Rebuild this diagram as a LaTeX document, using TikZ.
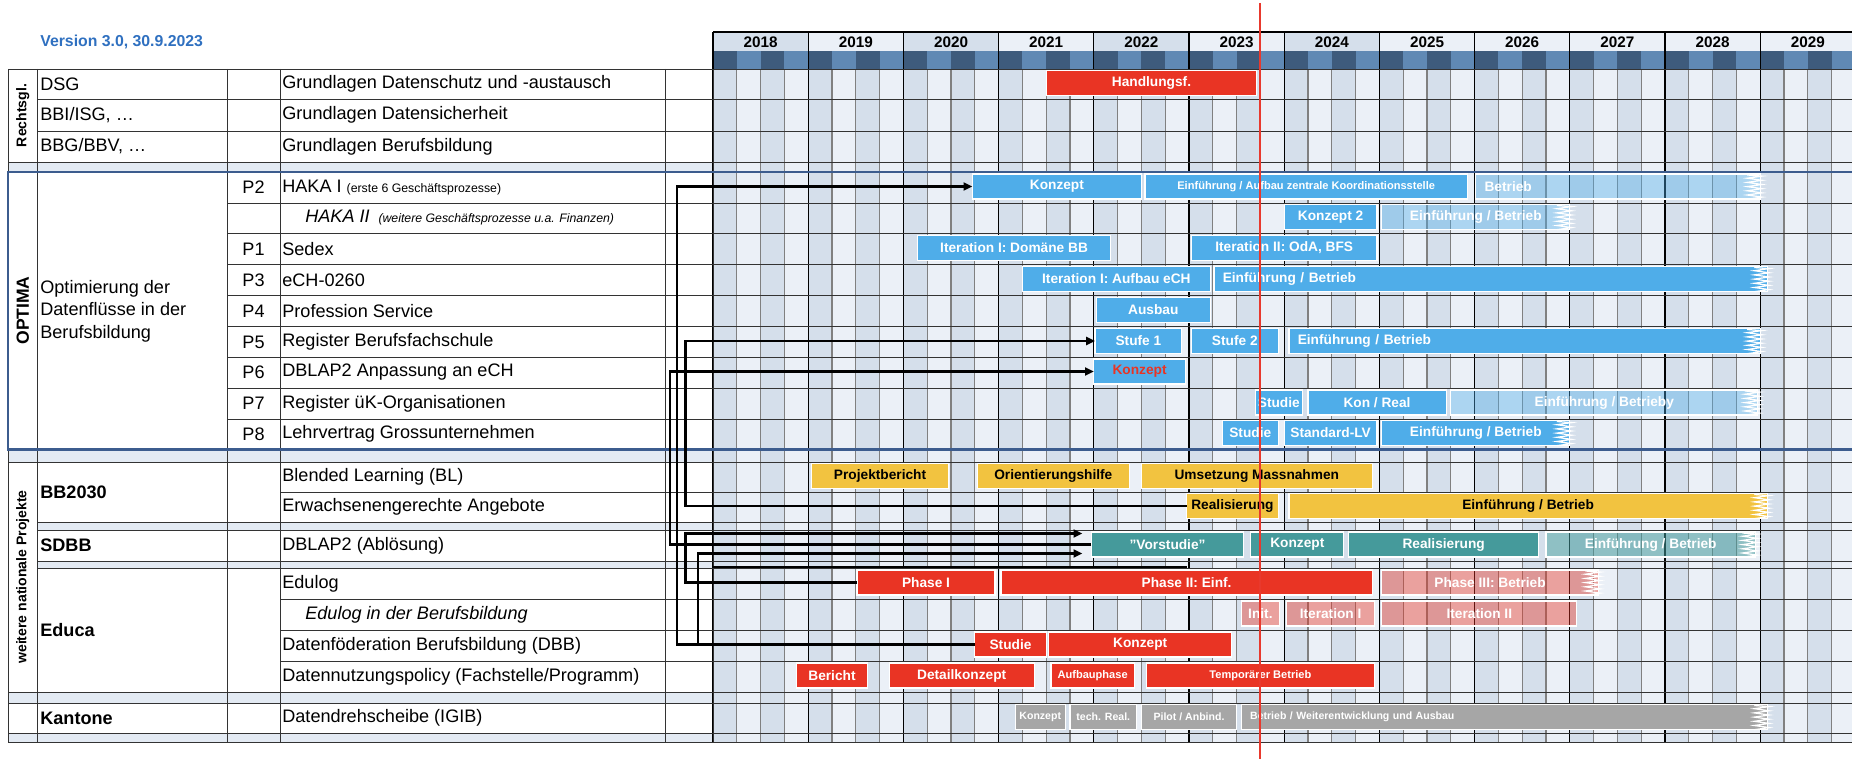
\documentclass[tikz,border=0pt]{standalone}
\usepackage{fontspec}
\setmainfont{Liberation Sans}
\usetikzlibrary{calc,arrows.meta}

\definecolor{qdark}{HTML}{D5DFEB}
\definecolor{qlight}{HTML}{EBF0F7}
\definecolor{hdark}{HTML}{3E5B7C}
\definecolor{hmid}{HTML}{6089B4}
\definecolor{sepfill}{HTML}{E3EAF3}
\definecolor{frameblue}{HTML}{3C5C8E}
\definecolor{verblue}{HTML}{2F70C0}
\definecolor{barblue}{HTML}{4FADE9}
\definecolor{barred}{HTML}{E93424}
\definecolor{baryellow}{HTML}{F2C340}
\definecolor{barteal}{HTML}{459A9B}
\definecolor{bargrey}{HTML}{A6A6A6}
\definecolor{nowred}{HTML}{E8392D}

% bar from quarter #3 to quarter #4 (0 = 2018/Q1)
\newcommand{\gbar}[6]{%
  \pgfmathsetlengthmacro\barw{(#4-#3)*0.476cm}%
  \node[#2, minimum width=\barw] (#1) at ({713+23.8*#3},#5) {#6};}
\newcommand{\gbarl}[6]{%
  \pgfmathsetlengthmacro\barw{(#4-#3)*0.476cm}%
  \node[#2, text width=\barw, align=left] (#1) at ({713+23.8*#3},#5) {\hspace*{5pt}#6};}
% open end of a bar
\newcommand{\torn}[1]{%
  \draw[white, line width=0.7pt] ($(#1.north east)+(-13,1)$)
    \foreach \k in {1,...,6}{ -- ($(#1.north east)+(2,{4.2*\k-2.1})$) -- ($(#1.north east)+(-13,{4.2*\k})$) };}

\begin{document}
\begin{tikzpicture}[x=0.02cm, y=-0.02cm,
  bar/.style={draw=white, line width=0.6pt, minimum height=0.5cm, inner sep=0pt, outer sep=0pt,
    anchor=west, text=white, font=\bfseries\fontsize{7.8}{9}\selectfont},
  bblue/.style={bar, fill=barblue},
  bbluel/.style={bar, fill=barblue, fill opacity=0.4, text opacity=1},
  bred/.style={bar, fill=barred},
  bredl/.style={bar, fill=barred, fill opacity=0.42, text opacity=1},
  byellow/.style={bar, fill=baryellow, text=black},
  bteal/.style={bar, fill=barteal},
  bteall/.style={bar, fill=barteal, fill opacity=0.55, text opacity=1},
  bgrey/.style={bar, fill=bargrey},
  lblsmall/.style={font=\bfseries\fontsize{6.3}{7.5}\selectfont},
  lbltiny/.style={font=\bfseries\fontsize{6}{7}\selectfont},
  cell/.style={anchor=west, inner sep=0pt, font=\fontsize{10.3}{12.8}\selectfont},
  icell/.style={cell, font=\itshape\fontsize{10.3}{12.8}\selectfont},
  group/.style={cell, font=\bfseries\fontsize{10.3}{12.8}\selectfont},
  pcell/.style={inner sep=0pt, font=\fontsize{10.3}{12.8}\selectfont},
  side/.style={rotate=90, inner sep=0pt, font=\bfseries\fontsize{8}{9}\selectfont},
  yearlbl/.style={inner sep=0pt, font=\bfseries\fontsize{8.7}{10}\selectfont},
  gridq/.style={draw=black!50, line width=0.6pt},
  gridy/.style={draw=black, line width=0.6pt},
  gridh/.style={draw=black!80, line width=0.5pt},
  conn/.style={line width=1.2pt, -{Triangle[length=5pt,width=4.5pt]}}]

\useasboundingbox (0,0) rectangle (1852,759);
\clip (0,0) rectangle (1852,759);

% chart background and quarter row
\foreach \q in {0,2,...,46}{
  \fill[qdark] ({713+23.8*\q},69) rectangle ++(23.8,673);
  \fill[qlight] ({713+23.8*(\q+1)},69) rectangle ++(23.8,673);
  \fill[hdark] ({713+23.8*\q},51) rectangle ++(23.8,18);
  \fill[hmid] ({713+23.8*(\q+1)},51) rectangle ++(23.8,18);
}
% year row
\foreach \i in {0,...,11}{
  \pgfmathtruncatemacro\yr{2018+\i}
  \ifodd\i\def\yc{qlight}\else\def\yc{qdark}\fi
  \ifnum\i>6\def\yc{qlight}\fi
  \fill[\yc] ({713+95.2*\i},32) rectangle ++(95.2,19);
  \node[yearlbl] (y\yr) at ({713+95.2*\i+47.6},42) {\yr};
}

% left table fills
\fill[sepfill] (8,162) rectangle (713,172);
\fill[sepfill] (8,449.5) rectangle (713,462);
\fill[sepfill] (37.6,522) rectangle (713,530);
\fill[sepfill] (37.6,561) rectangle (713,568);
\fill[sepfill] (8,692) rectangle (713,703);
\fill[sepfill] (8,733) rectangle (713,742);

% grid
\foreach \q in {1,...,47}
  \draw[gridq] ({713+23.8*\q},69) -- ++(0,673);
\foreach \i in {0,...,11}
  \draw[gridy] ({713+95.2*\i},32) -- ++(0,710);
\draw[gridy] (713,32) -- (1852,32);
\foreach \r in {69,99.5,131,162,203,233.5,264.5,295.5,326.5,357.5,388,419,462,492,522,530,561,568,599,630,661,692,703,733,742}
  \draw[gridh] (713,\r) -- (1852,\r);
\draw[gridh] (8,69) -- (713,69);
\foreach \r in {99.5,131} \draw[gridh] (37.6,\r) -- (713,\r);
\draw[gridh] (8,162) -- (713,162);
\foreach \r in {203,233.5,264.5,295.5,326.5,357.5,388,419} \draw[gridh] (227,\r) -- (713,\r);
\draw[gridh] (8,462) -- (713,462);
\foreach \r in {492,599,630,661} \draw[gridh] (280,\r) -- (713,\r);
\foreach \r in {522,530,561,568} \draw[gridh] (37.6,\r) -- (713,\r);
\foreach \r in {692,703,733,742} \draw[gridh] (8,\r) -- (713,\r);
\foreach \c in {8,37.6,227,280,665,713} \draw[gridh] (\c,69) -- (\c,742);
\draw[frameblue, line width=1.4pt] (1852,172) -- (8,172) -- (8,449.5) -- (1852,449.5);

% texts, left table
\node[anchor=west, inner sep=0pt, text=verblue, font=\bfseries\fontsize{9}{11}\selectfont] (ver) at (40,42) {Version 3.0, 30.9.2023};
\node[side] (rRecht) at (22.8,115.5) {Rechtsgl.};
\node[side, font=\bfseries\fontsize{10}{12}\selectfont] (rOpt) at (22.8,310.5) {OPTIMA};
\node[side] (rWeit) at (22.8,577) {weitere nationale Projekte};

\node[cell] (kDSG) at (40,84) {DSG};
\node[cell] (kBBI) at (40,115) {BBI/ISG, …};
\node[cell] (kBBG) at (40,146.5) {BBG/BBV, …};
\node[cell, align=left] (kOpt) at (40,311) {Optimierung der\\Datenflüsse in der\\Berufsbildung};
\node[group] (kBB) at (40,492) {BB2030};
\node[group] (kSD) at (40,545.5) {SDBB};
\node[group] (kEd) at (40,630) {Educa};
\node[group] (kKa) at (40,718) {Kantone};

\node[pcell] (nP2) at (253.5,187.5) {P2};
\node[pcell] (nP1) at (253.5,249) {P1};
\node[pcell] (nP3) at (253.5,280) {P3};
\node[pcell] (nP4) at (253.5,311) {P4};
\node[pcell] (nP5) at (253.5,342) {P5};
\node[pcell] (nP6) at (253.5,372.5) {P6};
\node[pcell] (nP7) at (253.5,403.5) {P7};
\node[pcell] (nP8) at (253.5,434) {P8};

\node[cell] (tDSG) at (282,84) {Grundlagen Datenschutz und -austausch};
\node[cell] (tBBI) at (282,115) {Grundlagen Datensicherheit};
\node[cell] (tBBG) at (282,146.5) {Grundlagen Berufsbildung};
\node[cell] (tP2) at (282,187.5) {HAKA I {\fontsize{7}{8}\selectfont(erste 6 Geschäftsprozesse)}};
\node[icell] (tH2) at (305,218) {HAKA II\hspace{5pt}{\fontsize{7}{8}\selectfont(weitere Geschäftsprozesse u.a. Finanzen)}};
\node[cell] (tP1) at (282,249) {Sedex};
\node[cell] (tP3) at (282,280) {eCH-0260};
\node[cell] (tP4) at (282,311) {Profession Service};
\node[cell] (tP5) at (282,342) {Register Berufsfachschule};
\node[cell] (tP6) at (282,372.5) {DBLAP2 Anpassung an eCH};
\node[cell] (tP7) at (282,403.5) {Register üK-Organisationen};
\node[cell] (tP8) at (282,434) {Lehrvertrag Grossunternehmen};
\node[cell] (tBL) at (282,477) {Blended Learning (BL)};
\node[cell] (tEA) at (282,507) {Erwachsenengerechte Angebote};
\node[cell] (tSD) at (282,545.5) {DBLAP2 (Ablösung)};
\node[cell] (tED) at (282,583.5) {Edulog};
\node[icell] (tEB) at (305,614.5) {Edulog in der Berufsbildung};
\node[cell] (tDB) at (282,645.5) {Datenföderation Berufsbildung (DBB)};
\node[cell] (tDN) at (282,676.5) {Datennutzungspolicy (Fachstelle/Programm)};
\node[cell] (tKA) at (282,718) {Datendrehscheibe (IGIB)};

% bars
\gbar{hfHand}{bred}{14}{22.85}{83}{Handlungsf.}
\gbar{p2Kon}{bblue}{10.9}{18}{186.5}{Konzept}
\gbar{p2Einf}{bblue,lblsmall}{18.15}{31.7}{186.5}{Einführung / Aufbau zentrale Koordinationsstelle}
\gbarl{p2Betr}{bbluel}{32.05}{44}{186.5}{Betrieb}
\gbar{h2Kon}{bblue}{24}{27.9}{217}{Konzept 2}
\gbar{h2Einf}{bbluel}{28.1}{36}{217}{Einführung / Betrieb}
\gbar{p1ItA}{bblue}{8.6}{16.7}{248}{Iteration I: Domäne BB}
\gbar{p1ItB}{bblue}{20.1}{27.9}{248}{Iteration II: OdA, BFS}
\gbar{p3ItA}{bblue}{13}{20.9}{279}{Iteration I: Aufbau eCH}
\gbarl{p3Einf}{bblue}{21.05}{44.3}{279}{Einführung / Betrieb}
\gbar{p4Aus}{bblue}{16.1}{20.9}{310}{Ausbau}
\gbar{p5StA}{bblue}{16.05}{19.7}{341}{Stufe 1}
\gbar{p5StB}{bblue}{20.1}{23.75}{341}{Stufe 2}
\gbarl{p5Einf}{bblue}{24.2}{44}{341}{Einführung / Betrieb}
\gbar{p6Kon}{bblue,text=barred}{16}{19.85}{371.5}{Konzept}
\gbar{p7Stud}{bblue}{22.8}{24.75}{402.5}{Studie}
\gbar{p7Kon}{bblue}{25}{30.8}{402.5}{Kon / Real}
\gbar{p7Einf}{bbluel}{31}{43.9}{402.5}{Einführung / Betrieby}
\gbar{p8Stud}{bblue}{21.4}{23.75}{433}{Studie}
\gbar{p8Std}{bblue}{24}{27.9}{433}{Standard-LV}
\gbar{p8Einf}{bblue}{28.1}{36}{433}{Einführung / Betrieb}
\gbar{blProj}{byellow}{4.14}{9.9}{476}{Projektbericht}
\gbar{blOri}{byellow}{11.1}{17.5}{476}{Orientierungshilfe}
\gbar{blUms}{byellow}{18}{27.7}{476}{Umsetzung Massnahmen}
\gbar{eaReal}{byellow}{19.9}{23.75}{506}{Realisierung}
\gbar{eaEinf}{byellow}{24.2}{44.3}{506}{Einführung / Betrieb}
\gbar{sdVor}{bteal}{15.9}{22.3}{544.5}{"Vorstudie"}
\gbar{sdKon}{bteal}{22.6}{26.5}{544.5}{Konzept}
\gbar{sdReal}{bteal}{26.7}{34.7}{544.5}{Realisierung}
\gbar{sdEinf}{bteall}{35}{43.8}{544.5}{Einführung / Betrieb}
\gbar{edPhA}{bred}{6.05}{11.85}{582.5}{Phase I}
\gbar{edPhB}{bred}{12.1}{27.7}{582.5}{Phase II: Einf.}
\gbar{edPhC}{bredl}{28.1}{37.2}{582.5}{Phase III: Betrieb}
\gbar{ebInit}{bredl}{22.2}{23.8}{613.5}{Init.}
\gbar{ebItA}{bredl}{24.1}{27.8}{613.5}{Iteration I}
\gbar{ebItB}{bredl}{28.1}{36.3}{613.5}{Iteration II}
\gbar{dbStud}{bred}{11}{14}{644.5}{Studie}
\gbar{dbKon}{bred}{14.1}{21.8}{644.5}{Konzept}
\gbar{dnBer}{bred}{3.5}{6.5}{675.5}{Bericht}
\gbar{dnDet}{bred}{7.4}{13.5}{675.5}{Detailkonzept}
\gbar{dnAuf}{bred,lblsmall}{14.2}{17.7}{675.5}{Aufbauphase}
\gbar{dnTemp}{bred,lblsmall}{18.2}{27.8}{675.5}{Temporärer Betrieb}
\gbar{kaKon}{bgrey,lbltiny}{12.7}{14.8}{717}{Konzept}
\gbar{kaTech}{bgrey,lbltiny}{15}{17.8}{717}{tech. Real.}
\gbar{kaPil}{bgrey,lbltiny}{18}{22}{717}{Pilot / Anbind.}
\gbarl{kaBetr}{bgrey,lbltiny}{22.2}{44.3}{717}{Betrieb / Weiterentwicklung und Ausbau}

\foreach \b in {p2Betr,h2Einf,p3Einf,p5Einf,p7Einf,p8Einf,eaEinf,sdEinf,edPhC,kaBetr}{
  \torn{\b}
}

% connectors
\coordinate (chA) at (670,0);
\coordinate (chB) at (677,0);
\coordinate (chC) at (685.5,0);
\coordinate (chD) at (698,0);
\coordinate (lnA) at (713,567);
\draw[conn] (dbStud.west) -- (dbStud.west -| chB) |- (p2Kon.west);
\draw[conn] (eaReal.west) -- (eaReal.west -| chC) |- (p5StA.west);
\draw[conn] (sdVor.west) -- (sdVor.west -| chA) |- (p6Kon.west);
\draw[conn, shorten >=0.18cm] (edPhA.west) -- (edPhA.west -| chC) |- ($(sdVor.west)+(0,-11)$);
\draw[conn, shorten >=0.18cm] (dbStud.west) -- (dbStud.west -| chD) |- ($(sdVor.west)+(0,9)$);
\draw[line width=1.1pt] (lnA) -- (lnA -| eaReal.west);

% today
\coordinate (nowTop) at (1260,3);
\coordinate (nowBot) at (1260,759);
\draw[nowred, line width=1.3pt] (nowTop) -- (nowBot);
\end{tikzpicture}
\end{document}
